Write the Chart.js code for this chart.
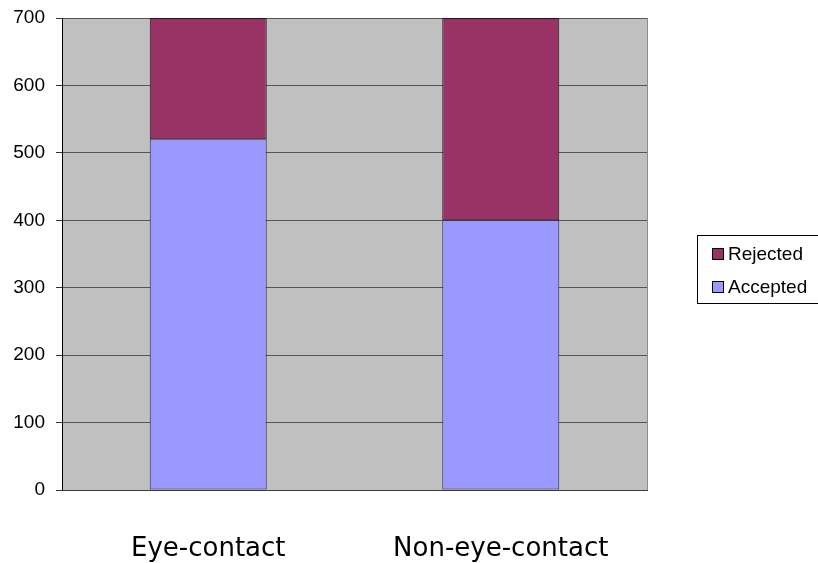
<!DOCTYPE html>
<html>
<head>
<meta charset="utf-8">
<script src="https://cdn.jsdelivr.net/npm/chart.js@4/dist/chart.umd.min.js"></script>
<style>
  html, body { margin: 0; padding: 0; background: #fff; overflow: hidden; }
  #wrap { width: 818px; height: 563px; position: relative; }
</style>
</head>
<body>
<div id="wrap"><canvas id="c" width="818" height="563"></canvas></div>
<script>
// Response counts per condition
const categories = ['Eye-contact', 'Non-eye-contact'];
const accepted = [520, 400];
const rejected = [180, 300];
const yTicks = [0, 100, 200, 300, 400, 500, 600, 700];

// Grey plot background and plot frame
const plotFrame = {
  id: 'plotFrame',
  beforeDatasetsDraw(chart) {
    const { ctx, chartArea: a } = chart;
    ctx.save();
    ctx.strokeStyle = '#8c8c8c';
    ctx.lineWidth = 1;
    ctx.beginPath();
    ctx.moveTo(Math.round(a.right) + 0.5, a.top);
    ctx.lineTo(Math.round(a.right) + 0.5, a.bottom);
    ctx.stroke();
    ctx.restore();
  },
  beforeDraw(chart) {
    const { ctx, chartArea: a } = chart;
    ctx.save();
    ctx.fillStyle = '#c0c0c0';
    ctx.fillRect(a.left, a.top, a.right - a.left, a.bottom - a.top);
    ctx.restore();
  }
};

// Boxed legend on the right, series listed top-down in stack order
const boxLegend = {
  id: 'boxLegend',
  afterDraw(chart) {
    const { ctx } = chart;
    const x0 = 697.5, y0 = 235.5, w = 140, h = 68;
    ctx.save();
    ctx.strokeStyle = '#000';
    ctx.lineWidth = 1;
    ctx.strokeRect(x0, y0, w, h);
    ctx.font = '19px "Liberation Sans", Arial, sans-serif';
    ctx.textBaseline = 'middle';
    ctx.textAlign = 'left';
    const ds = chart.data.datasets.slice().reverse();
    ds.forEach((d, i) => {
      const cy = 254 + i * 33;
      ctx.fillStyle = d.backgroundColor;
      ctx.fillRect(712, cy - 6, 11, 11);
      ctx.strokeStyle = '#000';
      ctx.strokeRect(712.5, cy - 5.5, 11, 11);
      ctx.fillStyle = '#000';
      ctx.fillText(d.label, 728, cy + 1);
    });
    ctx.restore();
  }
};

new Chart(document.getElementById('c'), {
  type: 'bar',
  data: {
    labels: categories,
    datasets: [
      {
        label: 'Accepted',
        data: accepted,
        backgroundColor: '#9999ff',
        borderColor: '#2b2b55',
        borderWidth: 1,
        borderSkipped: false,
        barPercentage: 0.4,
        categoryPercentage: 1.0
      },
      {
        label: 'Rejected',
        data: rejected,
        backgroundColor: '#993366',
        borderColor: '#1a1a1a',
        borderWidth: 1,
        borderSkipped: false,
        barPercentage: 0.4,
        categoryPercentage: 1.0
      }
    ]
  },
  options: {
    responsive: false,
    animation: false,
    events: [],
    layout: { padding: { top: 18, right: 171, left: 0, bottom: 0 } },
    plugins: {
      legend: { display: false },
      tooltip: { enabled: false }
    },
    scales: {
      x: {
        stacked: true,
        grid: { display: false, drawTicks: false },
        border: { display: true, color: '#3a3a3a', width: 1 },
        ticks: {
          color: '#000',
          padding: 44,
          font: { family: '"DejaVu Sans", sans-serif', size: 26 }
        },
        afterFit(s) { s.height = 73; s.paddingLeft = 0; s.paddingRight = 0; }
      },
      y: {
        stacked: true,
        min: 0,
        max: 700,
        afterBuildTicks(s) { s.ticks = yTicks.map(v => ({ value: v })); },
        grid: { color: '#555', tickColor: '#333', tickLength: 6, lineWidth: 1 },
        border: { display: true, color: '#000', width: 1 },
        ticks: {
          color: '#000',
          padding: 11,
          font: { family: '"Liberation Sans", Arial, sans-serif', size: 19 }
        },
        afterFit(s) { s.width = 62; s.paddingTop = 0; s.paddingBottom = 0; }
      }
    }
  },
  plugins: [plotFrame, boxLegend]
});
</script>
</body>
</html>
